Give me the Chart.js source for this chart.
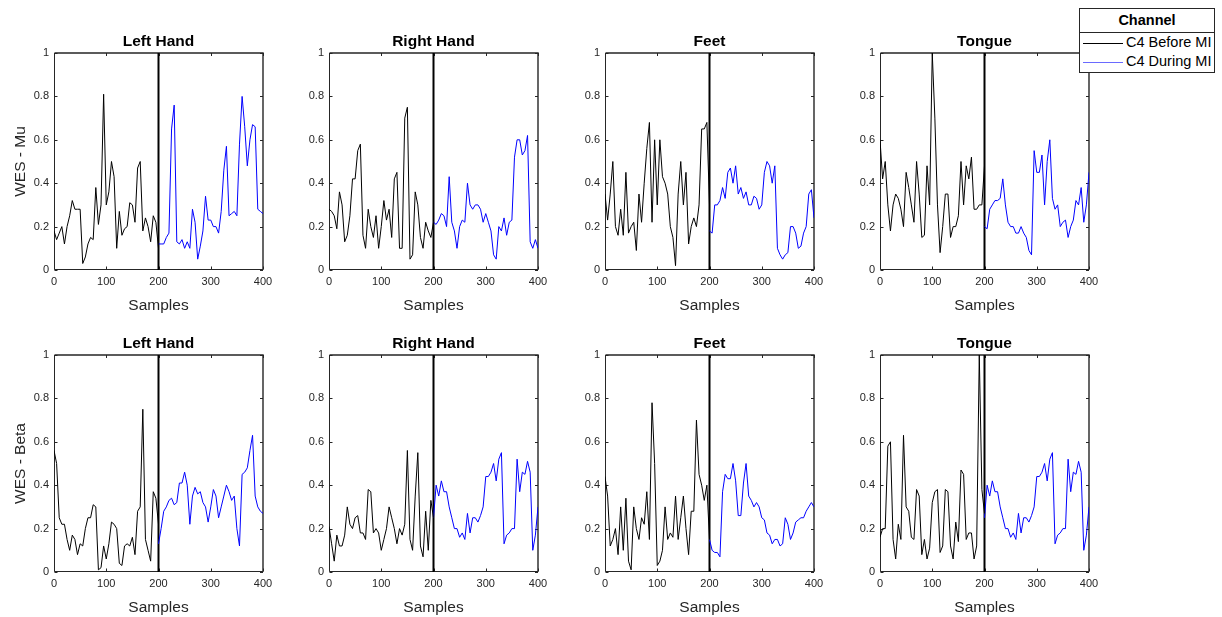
<!DOCTYPE html>
<html lang="en">
<head>
<meta charset="UTF-8">
<title>WES before and during MI</title>
<script src="https://cdn.jsdelivr.net/npm/chart.js"></script>
<style>
  body { margin: 0; background: #fff; font-family: "Liberation Sans", Arial, sans-serif; }
  #figure { position: relative; width: 1222px; height: 617px; overflow: hidden; background: #fff; }
  #figure canvas { position: absolute; }
  .legend {
    position: absolute; left: 1079px; top: 8px; width: 134px; height: 63px;
    border: 1px solid #262626; background: #fff; color: #000; z-index: 5;
  }
  .legend-title {
    height: 23px; line-height: 23px; text-align: center; font-weight: bold; font-size: 14.5px;
    border-bottom: 1px solid #262626;
  }
  .legend-item { height: 19px; line-height: 19px; font-size: 14.5px; white-space: nowrap; }
  .legend-item:first-of-type { margin-top: 1px; }
  .swatch { display: inline-block; width: 40px; height: 1px; vertical-align: middle; margin: 0 3px 0 3px; }
</style>
</head>
<body>
<div id="figure">
  <div class="legend">
    <div class="legend-title">Channel</div>
    <div class="legend-item"><span class="swatch" style="background:#000"></span>C4 Before MI</div>
    <div class="legend-item"><span class="swatch" style="background:#6a6aff"></span>C4 During MI</div>
  </div>
</div>

<script>
// sample index for each half (before MI = 0..200, during MI = 200..400)
const beforeSamples = [0,5,10,15,20,25,30,35,40,45,50,55,60,65,70,75,80,85,90,95,100,
  105,110,115,120,125,130,135,140,145,150,155,160,165,170,175,180,185,190,195,200];
const duringSamples = [200,205,210,215,220,225,230,235,240,245,250,255,260,265,270,275,280,285,290,295,300,
  305,310,315,320,325,330,335,340,345,350,355,360,365,370,375,380,385,390,395,400];
const onsetSample = 200;

const panelTitles = ['Left Hand', 'Right Hand', 'Feet', 'Tongue'];
const rowLabels = ['WES - Mu', 'WES - Beta'];
const seriesNames = ['C4 Before MI', 'C4 During MI'];

// Mu band
const muLeftBefore = [0.18,0.14,0.17,0.2,0.12,0.2,0.25,0.32,0.28,0.28, 0.28,0.03,0.06,0.12,0.15,0.14,0.38,0.21,0.3,0.81,
  0.3,0.36,0.5,0.43,0.1,0.27,0.16,0.19,0.2,0.31, 0.3,0.22,0.47,0.5,0.18,0.24,0.2,0.13,0.25,0.22, 0.1];
const muLeftDuring = [0.12,0.12,0.12,0.15,0.17,0.65,0.76,0.13,0.12,0.14, 0.1,0.13,0.1,0.28,0.22,0.05,0.11,0.18,0.34,0.23,
  0.23,0.2,0.2,0.17,0.27,0.46,0.57,0.25,0.26,0.27, 0.25,0.58,0.8,0.66,0.48,0.6,0.67,0.66,0.28,0.27, 0.26];
const muRightBefore = [0.28,0.27,0.25,0.19,0.36,0.3,0.13,0.16,0.25,0.42, 0.42,0.55,0.58,0.16,0.1,0.28,0.2,0.15,0.25,0.1,
  0.2,0.32,0.23,0.28,0.15,0.42,0.45,0.1,0.1,0.7, 0.75,0.05,0.07,0.36,0.3,0.15,0.1,0.22,0.18,0.15, 0.22];
const muRightDuring = [0.22,0.21,0.23,0.26,0.25,0.2,0.43,0.22,0.18,0.1, 0.2,0.23,0.22,0.4,0.3,0.28,0.3,0.3,0.28,0.22,
  0.26,0.22,0.18,0.07,0.05,0.2,0.18,0.24,0.16,0.22, 0.23,0.52,0.6,0.6,0.53,0.55,0.62,0.13,0.1,0.14, 0.1];
const muFeetBefore = [0.35,0.23,0.35,0.5,0.2,0.16,0.28,0.16,0.45,0.17, 0.2,0.22,0.09,0.35,0.22,0.4,0.56,0.68,0.22,0.6,
  0.3,0.6,0.43,0.4,0.35,0.2,0.15,0.02,0.35,0.5, 0.3,0.45,0.12,0.2,0.24,0.2,0.3,0.65,0.65,0.68, 0.3];
const muFeetDuring = [0.18,0.17,0.3,0.3,0.32,0.38,0.33,0.45,0.47,0.4, 0.48,0.35,0.38,0.33,0.36,0.3,0.3,0.34,0.33,0.28,
  0.3,0.45,0.5,0.48,0.4,0.48,0.1,0.07,0.05,0.07, 0.08,0.2,0.2,0.17,0.1,0.11,0.17,0.2,0.35,0.37, 0.24];
const muTongueBefore = [0.6,0.42,0.5,0.3,0.18,0.3,0.35,0.33,0.28,0.2, 0.45,0.38,0.3,0.22,0.5,0.35,0.15,0.16,0.48,0.3,
  1.0,0.7,0.3,0.08,0.2,0.35,0.35,0.15,0.2,0.2, 0.25,0.5,0.3,0.48,0.42,0.52,0.28,0.28,0.3,0.3, 0.48];
const muTongueDuring = [0.2,0.19,0.28,0.3,0.32,0.32,0.33,0.42,0.3,0.22, 0.2,0.2,0.17,0.17,0.2,0.17,0.15,0.09,0.07,0.55,
  0.45,0.45,0.53,0.3,0.5,0.6,0.33,0.28,0.3,0.2, 0.22,0.23,0.15,0.2,0.23,0.32,0.3,0.38,0.22,0.3, 0.45];

// Beta band
const betaLeftBefore = [0.56,0.5,0.25,0.22,0.22,0.15,0.1,0.17,0.15,0.08, 0.13,0.12,0.2,0.25,0.25,0.31,0.3,0.01,0.02,0.12,
  0.06,0.13,0.23,0.22,0.2,0.04,0.03,0.12,0.13,0.12, 0.16,0.08,0.28,0.3,0.75,0.15,0.1,0.05,0.37,0.34, 0.22];
const betaLeftDuring = [0.13,0.2,0.28,0.3,0.33,0.34,0.31,0.32,0.41,0.41, 0.46,0.4,0.22,0.35,0.39,0.36,0.37,0.32,0.3,0.23,
  0.3,0.38,0.35,0.25,0.3,0.35,0.4,0.37,0.33,0.35, 0.2,0.12,0.45,0.46,0.48,0.56,0.63,0.35,0.3,0.28, 0.27];
const betaRightBefore = [0.21,0.13,0.05,0.17,0.12,0.12,0.17,0.3,0.22,0.2, 0.25,0.26,0.18,0.18,0.15,0.38,0.37,0.18,0.2,0.18,
  0.1,0.15,0.2,0.3,0.25,0.2,0.13,0.2,0.17,0.22, 0.56,0.15,0.1,0.35,0.55,0.12,0.07,0.28,0.1,0.33, 0.25];
const betaRightDuring = [0.25,0.4,0.35,0.42,0.37,0.37,0.3,0.25,0.2,0.2, 0.16,0.18,0.15,0.27,0.18,0.25,0.25,0.23,0.26,0.3,
  0.44,0.44,0.46,0.5,0.42,0.52,0.55,0.13,0.17,0.18, 0.2,0.2,0.52,0.37,0.46,0.45,0.51,0.46,0.1,0.17, 0.3];
const betaFeetBefore = [0.44,0.35,0.12,0.15,0.2,0.08,0.3,0.1,0.34,0.05, 0.01,0.3,0.2,0.15,0.25,0.22,0.37,0.15,0.78,0.5,
  0.03,0.05,0.1,0.3,0.15,0.18,0.16,0.35,0.15,0.25, 0.35,0.2,0.08,0.28,0.28,0.7,0.45,0.4,0.33,0.4, 0.15];
const betaFeetDuring = [0.15,0.1,0.09,0.09,0.07,0.37,0.45,0.43,0.43,0.5, 0.42,0.26,0.26,0.41,0.5,0.35,0.33,0.3,0.32,0.3,
  0.25,0.24,0.18,0.17,0.13,0.15,0.15,0.12,0.13,0.25, 0.22,0.15,0.18,0.23,0.24,0.25,0.25,0.28,0.3,0.32, 0.3];
const betaTongueBefore = [0.16,0.2,0.2,0.58,0.6,0.15,0.06,0.22,0.15,0.63, 0.3,0.28,0.16,0.15,0.38,0.35,0.08,0.15,0.06,0.11,
  0.32,0.37,0.38,0.09,0.12,0.38,0.37,0.12,0.06,0.23, 0.14,0.47,0.45,0.15,0.18,0.18,0.06,0.12,1.0,0.38, 0.27];
const betaTongueDuring = [0.25,0.4,0.35,0.42,0.37,0.37,0.3,0.25,0.2,0.2, 0.16,0.18,0.15,0.27,0.18,0.25,0.25,0.23,0.26,0.3,
  0.44,0.44,0.46,0.5,0.42,0.52,0.55,0.13,0.17,0.18, 0.2,0.2,0.52,0.37,0.46,0.45,0.51,0.46,0.1,0.17, 0.3];

const panels = [
  [muLeftBefore, muLeftDuring], [muRightBefore, muRightDuring], [muFeetBefore, muFeetDuring], [muTongueBefore, muTongueDuring],
  [betaLeftBefore, betaLeftDuring], [betaRightBefore, betaRightDuring], [betaFeetBefore, betaFeetDuring], [betaTongueBefore, betaTongueDuring]
];

// figure layout (plot boxes in page pixels)
const plotLefts = [54, 329, 605, 880];
const plotTops = [53, 355];
const plotW = 209, plotH = 217;
const padTop = 30, padRight = 12, xAxisH = 45;
const axisColor = '#262626';
const fontFamily = '"Liberation Sans", Arial, sans-serif';

function toPoints(xs, ys) {
  return xs.map(function (x, i) { return { x: x, y: ys[i] }; });
}

// MATLAB-style box with inward ticks
const frame = {
  id: 'frame',
  beforeDatasetsDraw(chart) {
    const ctx = chart.ctx;
    const a = chart.chartArea;
    const l = Math.round(a.left) + 0.5, b = Math.round(a.bottom) - 0.5;
    const r = Math.round(a.right), t = Math.round(a.top);
    ctx.save();
    ctx.strokeStyle = axisColor;
    // top and right edges: lighter, soft
    ctx.lineWidth = 1.4;
    ctx.beginPath();
    ctx.moveTo(l, t); ctx.lineTo(r, t); ctx.lineTo(r, b);
    ctx.stroke();
    // left and bottom axes
    ctx.lineWidth = 1;
    ctx.beginPath();
    ctx.moveTo(l, t); ctx.lineTo(l, b); ctx.lineTo(r, b);
    ctx.stroke();
    const tl = 3;
    ctx.beginPath();
    chart.scales.x.ticks.forEach(function (tk) {
      const px = Math.round(chart.scales.x.getPixelForValue(tk.value)) + 0.5;
      ctx.moveTo(px, b); ctx.lineTo(px, b - tl);
      ctx.moveTo(px, t); ctx.lineTo(px, t + tl);
    });
    chart.scales.y.ticks.forEach(function (tk) {
      const py = Math.round(chart.scales.y.getPixelForValue(tk.value)) + 0.5;
      ctx.moveTo(l, py); ctx.lineTo(l + tl, py);
      ctx.moveTo(r, py); ctx.lineTo(r - tl, py);
    });
    ctx.stroke();
    ctx.restore();
  }
};

const panelTitle = {
  id: 'panelTitle',
  afterDraw(chart, args, opts) {
    const ctx = chart.ctx;
    const a = chart.chartArea;
    ctx.save();
    ctx.font = 'bold 15.5px ' + fontFamily;
    ctx.fillStyle = '#000';
    ctx.textAlign = 'center';
    ctx.textBaseline = 'alphabetic';
    ctx.fillText(opts.text, (a.left + a.right) / 2, a.top - 7);
    ctx.restore();
  }
};

const figure = document.getElementById('figure');

panels.forEach(function (series, k) {
  const row = Math.floor(k / 4), col = k % 4;
  const padLeft = col === 0 ? 43 : 40;
  const canvas = document.createElement('canvas');
  canvas.width = padLeft + plotW + padRight;
  canvas.height = padTop + plotH + xAxisH;
  canvas.style.left = (plotLefts[col] - padLeft) + 'px';
  canvas.style.top = (plotTops[row] - padTop) + 'px';
  figure.appendChild(canvas);

  new Chart(canvas, {
    type: 'line',
    data: {
      datasets: [
        { label: seriesNames[0], data: toPoints(beforeSamples, series[0]), borderColor: '#000000', borderWidth: 1 },
        { label: seriesNames[1], data: toPoints(duringSamples, series[1]), borderColor: '#0000ff', borderWidth: 1 },
        { label: 'onset', data: [{ x: onsetSample, y: 0 }, { x: onsetSample, y: 1 }], borderColor: '#000000', borderWidth: 2 }
      ]
    },
    options: {
      responsive: false,
      animation: false,
      devicePixelRatio: 1,
      layout: { padding: { top: padTop, right: padRight, left: 0, bottom: 0 } },
      elements: { point: { radius: 0 }, line: { tension: 0 } },
      plugins: {
        legend: { display: false },
        tooltip: { enabled: false },
        panelTitle: { text: panelTitles[col] }
      },
      scales: {
        x: {
          type: 'linear', min: 0, max: 400,
          ticks: { stepSize: 100, color: axisColor, padding: 5, maxRotation: 0, font: { family: fontFamily, size: 11 } },
          grid: { display: false, drawTicks: false },
          border: { display: false },
          title: { display: true, text: 'Samples', color: axisColor, padding: 0, font: { family: fontFamily, size: 15.5 } },
          afterFit: function (s) { s.height = xAxisH; s.paddingLeft = 0; s.paddingRight = 0; }
        },
        y: {
          min: 0, max: 1,
          ticks: {
            stepSize: 0.2, color: axisColor, padding: 5, font: { family: fontFamily, size: 11 },
            callback: function (v) { return String(Number(v.toFixed(1))); }
          },
          grid: { display: false, drawTicks: false },
          border: { display: false },
          title: { display: col === 0, text: rowLabels[row], color: axisColor, padding: 0, font: { family: fontFamily, size: 15.5 } },
          afterFit: function (s) { s.width = padLeft; s.paddingTop = 0; s.paddingBottom = 0; }
        }
      }
    },
    plugins: [frame, panelTitle]
  });
});
</script>
</body>
</html>
